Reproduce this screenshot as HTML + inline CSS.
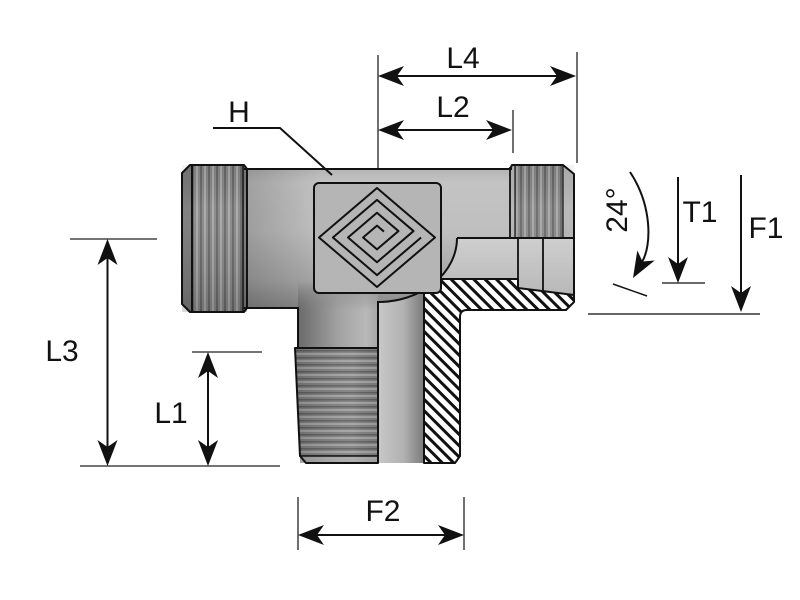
<!DOCTYPE html>
<html><head><meta charset="utf-8"><style>
html,body{margin:0;padding:0;background:#fff;}
svg{display:block;}
text{font-family:"Liberation Sans",sans-serif;font-size:30px;fill:#111;}
</style></head><body>
<svg width="800" height="600" viewBox="0 0 800 600" xmlns="http://www.w3.org/2000/svg">
<defs>
  <linearGradient id="bodyG" gradientUnits="userSpaceOnUse" x1="0" y1="165" x2="0" y2="312">
    <stop offset="0" stop-color="#b0b0b0"/>
    <stop offset="0.12" stop-color="#c3c3c3"/>
    <stop offset="0.45" stop-color="#bfbfbf"/>
    <stop offset="0.78" stop-color="#a6a6a6"/>
    <stop offset="1" stop-color="#828282"/>
  </linearGradient>
  <linearGradient id="leftDark" gradientUnits="userSpaceOnUse" x1="247" y1="0" x2="320" y2="0">
    <stop offset="0" stop-color="#000" stop-opacity="0.18"/>
    <stop offset="1" stop-color="#000" stop-opacity="0"/>
  </linearGradient>
  <linearGradient id="stemG" gradientUnits="userSpaceOnUse" x1="298" y1="0" x2="378" y2="0">
    <stop offset="0" stop-color="#6a6a6a"/>
    <stop offset="0.5" stop-color="#a2a2a2"/>
    <stop offset="0.85" stop-color="#b8b8b8"/>
    <stop offset="1" stop-color="#a6a6a6"/>
  </linearGradient>
  <linearGradient id="fadeV" gradientUnits="userSpaceOnUse" x1="0" y1="282" x2="0" y2="310">
    <stop offset="0" stop-color="#fff" stop-opacity="0"/>
    <stop offset="1" stop-color="#fff" stop-opacity="1"/>
  </linearGradient>
  <mask id="stemMask" maskUnits="userSpaceOnUse" x="290" y="270" width="100" height="90">
    <rect x="290" y="270" width="100" height="90" fill="url(#fadeV)"/>
  </mask>
  <linearGradient id="boreG" gradientUnits="userSpaceOnUse" x1="378" y1="0" x2="424" y2="0">
    <stop offset="0" stop-color="#c8c8c8"/>
    <stop offset="0.55" stop-color="#b2b2b2"/>
    <stop offset="1" stop-color="#7a7a7a"/>
  </linearGradient>
  <linearGradient id="portG" gradientUnits="userSpaceOnUse" x1="0" y1="238" x2="0" y2="295">
    <stop offset="0" stop-color="#cfcfcf"/>
    <stop offset="1" stop-color="#b8b8b8"/>
  </linearGradient>
  <pattern id="hatch" patternUnits="userSpaceOnUse" width="8" height="8" patternTransform="rotate(-45)">
    <rect width="8" height="8" fill="#fff"/>
    <rect x="0" y="0" width="3" height="8" fill="#111"/>
  </pattern>
  <pattern id="vThread" patternUnits="userSpaceOnUse" width="8" height="10">
    <rect width="8" height="10" fill="#858585"/>
    <rect x="0" width="2" height="10" fill="#666"/>
    <rect x="4" width="2" height="10" fill="#a5a5a5"/>
  </pattern>
  <pattern id="hThread" patternUnits="userSpaceOnUse" width="10" height="7">
    <rect width="10" height="7" fill="#7e7e7e"/>
    <rect y="0" width="10" height="1.5" fill="#5e5e5e"/>
    <rect y="3" width="10" height="2" fill="#a0a0a0"/>
  </pattern>
  <linearGradient id="nutShade" gradientUnits="userSpaceOnUse" x1="0" y1="165" x2="0" y2="312">
    <stop offset="0" stop-color="#000" stop-opacity="0.05"/>
    <stop offset="0.3" stop-color="#fff" stop-opacity="0.08"/>
    <stop offset="1" stop-color="#000" stop-opacity="0.15"/>
  </linearGradient>
  <linearGradient id="mThreadShade" gradientUnits="userSpaceOnUse" x1="295" y1="0" x2="378" y2="0">
    <stop offset="0" stop-color="#000" stop-opacity="0.15"/>
    <stop offset="0.7" stop-color="#fff" stop-opacity="0.08"/>
    <stop offset="1" stop-color="#000" stop-opacity="0.05"/>
  </linearGradient>
</defs>

<rect width="800" height="600" fill="#fff"/>

<!-- Body -->
<path d="M247,169 L510,169 L510,238 L457,238 A79 64 0 0 1 378,302 L378,348 L298,348 L298,308 L247,308 Z" fill="url(#bodyG)"/>
<rect x="247" y="169" width="73" height="139" fill="url(#leftDark)"/>
<rect x="298" y="282" width="80" height="66" fill="url(#stemG)" mask="url(#stemMask)"/>

<!-- Port bore -->
<path d="M457,238 L574,238 L574,295 L518,288 L518,279 L438.7,279 A79 64 0 0 0 457,238 Z" fill="url(#portG)"/>
<!-- Stem bore -->
<path d="M378,302 A79 64 0 0 0 424,290 L424,463 L378,463 Z" fill="url(#boreG)"/>
<!-- Hatched section -->
<path d="M438.7,279 L518,279 L518,288 L574,295 L574,302 L566,310 L467,310 Q460,310 460,317 L460,456 L455,463 L424,463 L424,290 A79 64 0 0 0 438.7,279 Z" fill="url(#hatch)" stroke="#111" stroke-width="2" stroke-linejoin="round"/>

<!-- Left nut -->
<path d="M190,165 L244,165 L247,169 L247,308 L244,312 L190,312 L182,304 L182,173 Z" fill="#777"/>
<rect x="192" y="165" width="51" height="147" fill="url(#vThread)"/>
<rect x="182" y="165" width="65" height="147" fill="url(#nutShade)"/>
<path d="M190,165 L244,165 L247,169 L247,308 L244,312 L190,312 L182,304 L182,173 Z" fill="none" stroke="#111" stroke-width="2" stroke-linejoin="round"/>
<line x1="192" y1="165" x2="192" y2="312" stroke="#111" stroke-width="2"/>
<line x1="243" y1="165" x2="243" y2="312" stroke="#111" stroke-width="1.5"/>

<!-- Right nut -->
<path d="M510,169 L512,165 L563,165 L574,174 L574,238 L510,238 Z" fill="#b4b4b4"/>
<rect x="515" y="165" width="48" height="73" fill="url(#vThread)"/>
<rect x="510" y="165" width="64" height="73" fill="url(#nutShade)"/>
<path d="M510,169 L512,165 L563,165 L574,174 L574,238" fill="none" stroke="#111" stroke-width="2" stroke-linejoin="round"/>
<line x1="510" y1="167" x2="510" y2="238" stroke="#111" stroke-width="1.8"/>
<line x1="515" y1="165" x2="515" y2="238" stroke="#111" stroke-width="1.2"/>
<line x1="563" y1="165" x2="563" y2="238" stroke="#111" stroke-width="1.2"/>

<!-- Male thread -->
<path d="M295,348 L378,348 L378,463 L306,463 L300,456 Z" fill="url(#hThread)"/>
<rect x="300" y="456" width="78" height="7" fill="#a8a8a8"/>
<path d="M295,348 L378,348 L378,463 L306,463 L300,456 Z" fill="url(#mThreadShade)"/>
<path d="M295,348 L378,348 L378,463 L306,463 L300,456 Z" fill="none" stroke="#111" stroke-width="2" stroke-linejoin="round"/>
<line x1="300" y1="456" x2="378" y2="456" stroke="#111" stroke-width="1.5"/>

<!-- Body outlines -->
<line x1="244" y1="169" x2="512" y2="169" stroke="#111" stroke-width="2"/>
<path d="M244,308 L298,308 L298,348" fill="none" stroke="#111" stroke-width="2"/>
<path d="M457,238 A79 64 0 0 1 378,302 L378,463" fill="none" stroke="#111" stroke-width="2"/>
<line x1="457" y1="238" x2="574" y2="238" stroke="#111" stroke-width="2"/>
<line x1="518" y1="238" x2="518" y2="288" stroke="#111" stroke-width="1.8"/>
<line x1="543" y1="238" x2="543" y2="291" stroke="#111" stroke-width="1.8"/>
<line x1="574" y1="238" x2="574" y2="302" stroke="#111" stroke-width="2"/>

<!-- Logo box -->
<rect x="314" y="183" width="127" height="110" rx="5" fill="#b5b5b5" stroke="#111" stroke-width="2"/>
<g transform="matrix(0.58,0.495,-0.58,0.495,377,188)" fill="none" stroke="#111" stroke-width="2" stroke-linejoin="round">
  <path d="M0,0 L100,0 L100,100 L0,100 Z" vector-effect="non-scaling-stroke"/>
  <path d="M88,12 L88,88 L12,88 L12,12 L75,12 L75,75 L25,75 L25,25 L62,25 L62,62 L38,62 L38,38 L50,38" vector-effect="non-scaling-stroke"/>
</g>

<!-- H leader -->
<path d="M213,128 L280,128 L332,175" fill="none" stroke="#111" stroke-width="2"/>
<text x="239" y="122" text-anchor="middle">H</text>

<!-- L4 / L2 -->
<line x1="378" y1="55" x2="378" y2="168" stroke="#222" stroke-width="1.3"/>
<line x1="577" y1="52" x2="577" y2="163" stroke="#222" stroke-width="1.3"/>
<line x1="513" y1="110" x2="513" y2="153" stroke="#222" stroke-width="1.3"/>
<line x1="395" y1="76" x2="560" y2="76" stroke="#111" stroke-width="2"/>
<polygon points="378,76 404,66 397,76 404,86" fill="#111"/>
<polygon points="576,76 550,66 557,76 550,86" fill="#111"/>
<text x="463" y="68" text-anchor="middle">L4</text>
<line x1="395" y1="130" x2="495" y2="130" stroke="#111" stroke-width="2"/>
<polygon points="378,130 404,120 397,130 404,140" fill="#111"/>
<polygon points="512,130 486,120 493,130 486,140" fill="#111"/>
<text x="453" y="117" text-anchor="middle">L2</text>

<!-- L3 / L1 -->
<line x1="70" y1="239" x2="157" y2="239" stroke="#222" stroke-width="1.3"/>
<line x1="80" y1="466" x2="280" y2="466" stroke="#222" stroke-width="1.3"/>
<line x1="107.5" y1="255" x2="107.5" y2="450" stroke="#111" stroke-width="2"/>
<polygon points="107.5,239 97.5,265 107.5,258 117.5,265" fill="#111"/>
<polygon points="107.5,466 97.5,440 107.5,447 117.5,440" fill="#111"/>
<text x="62" y="361" text-anchor="middle">L3</text>
<line x1="192" y1="352" x2="262" y2="352" stroke="#222" stroke-width="1.3"/>
<line x1="208" y1="368" x2="208" y2="450" stroke="#111" stroke-width="2"/>
<polygon points="208,352 198,378 208,371 218,378" fill="#111"/>
<polygon points="208,466 198,440 208,447 218,440" fill="#111"/>
<text x="171" y="423" text-anchor="middle">L1</text>

<!-- F2 -->
<line x1="298" y1="497" x2="298" y2="550" stroke="#222" stroke-width="1.3"/>
<line x1="464" y1="497" x2="464" y2="550" stroke="#222" stroke-width="1.3"/>
<line x1="315" y1="535" x2="447" y2="535" stroke="#111" stroke-width="2"/>
<polygon points="298,535 324,525 317,535 324,545" fill="#111"/>
<polygon points="464,535 438,525 445,535 438,545" fill="#111"/>
<text x="383" y="521" text-anchor="middle">F2</text>

<!-- 24° -->
<path d="M630,172 C652,205 652,245 642,262" fill="none" stroke="#111" stroke-width="2"/>
<polygon points="633,278 654.7,260.5 642.5,261.5 637.3,250.5" fill="#111"/>
<line x1="613" y1="284" x2="647" y2="296" stroke="#111" stroke-width="1.5"/>
<text transform="translate(627,210) rotate(-90)" text-anchor="middle">24°</text>

<!-- T1 -->
<line x1="678" y1="177" x2="678" y2="266" stroke="#111" stroke-width="2"/>
<polygon points="678,283 668,257 678,264 688,257" fill="#111"/>
<line x1="662" y1="283" x2="705" y2="283" stroke="#111" stroke-width="1.3"/>
<text x="700" y="222" text-anchor="middle">T1</text>

<!-- F1 -->
<line x1="741" y1="175" x2="741" y2="295" stroke="#111" stroke-width="2"/>
<polygon points="741,312 731,286 741,293 751,286" fill="#111"/>
<line x1="588" y1="314" x2="760" y2="314" stroke="#666" stroke-width="2"/>
<text x="766" y="238" text-anchor="middle">F1</text>
</svg>
</body></html>
